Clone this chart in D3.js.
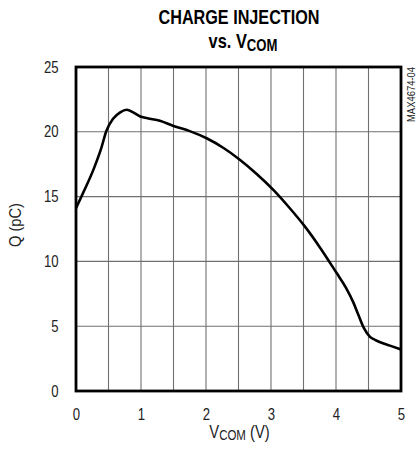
<!DOCTYPE html>
<html><head><meta charset="utf-8">
<script src="https://cdn.jsdelivr.net/npm/d3@7"></script>
<style>
body{margin:0;background:#fff;}
text{font-family:"Liberation Sans Narrow","Arial Narrow","Liberation Sans",sans-serif;}
</style></head>
<body>
<svg id="c" width="416" height="455"></svg>
<script>
const xTicks = [0,1,2,3,4,5];
const yTicks = [0,5,10,15,20,25];
const vcom = [0,0.12,0.27,0.38,0.47,0.57,0.68,0.78,0.88,0.98,1.1,1.29,1.5,1.75,2.01,2.27,2.52,2.78,3.04,3.29,3.52,3.75,4.01,4.15,4.27,4.35,4.43,4.52,4.6,4.68,4.83,5.0];
const charge = [14.1,15.4,17.1,18.6,20.1,21.0,21.5,21.7,21.5,21.2,21.05,20.85,20.45,20.05,19.5,18.75,17.85,16.75,15.5,14.1,12.7,11.1,9.1,8.0,6.8,5.8,4.85,4.2,3.95,3.76,3.5,3.2];

const svg = d3.select("#c");
const L=76,R=401,T=67,B=391;
const x = d3.scaleLinear().domain([0,5]).range([L,R]);
const y = d3.scaleLinear().domain([0,25]).range([B,T]);
const NX = 0.82;

// grid
const g = svg.append("g");
g.selectAll("line.v").data(d3.range(0.5,5,0.5)).enter().append("line")
 .attr("x1",d=>x(d)).attr("x2",d=>x(d)).attr("y1",T).attr("y2",B)
 .attr("stroke","#707070").attr("stroke-width",1.1);
g.selectAll("line.h").data(yTicks.slice(1,-1)).enter().append("line")
 .attr("y1",d=>y(d)).attr("y2",d=>y(d)).attr("x1",L).attr("x2",R)
 .attr("stroke","#707070").attr("stroke-width",1.1);

// curve
const line = d3.line().x((d,i)=>x(vcom[i])).y((d,i)=>y(charge[i])).curve(d3.curveMonotoneX);
svg.append("path").datum(charge).attr("d",line).attr("fill","none")
 .attr("stroke","#000").attr("stroke-width",2.6).attr("stroke-linejoin","round");

// frame
svg.append("rect").attr("x",L).attr("y",T).attr("width",R-L).attr("height",B-T)
 .attr("fill","none").attr("stroke","#000").attr("stroke-width",2.8);

// axes labels
const xa = d3.axisBottom(x).tickValues(xTicks).tickSize(0).tickPadding(18).tickFormat(d3.format("d"));
const gx = svg.append("g").attr("transform",`translate(0,${B})`).call(xa);
gx.select(".domain").remove();
gx.selectAll("text").attr("font-size",16).attr("fill","#222").style("font-family",null)
  .attr("transform",`scale(${NX},1)`);

const yp = 17.5;
const ya = d3.axisLeft(y).tickValues(yTicks).tickSize(0).tickPadding(yp).tickFormat(d3.format("d"));
const gy = svg.append("g").attr("transform",`translate(${L},0)`).call(ya);
gy.select(".domain").remove();
gy.selectAll("text").attr("font-size",16).attr("fill","#222").style("font-family",null)
  .attr("transform",`translate(${-yp},0) scale(${NX},1) translate(${yp},0)`);

// titles
svg.append("text").attr("x",239).attr("y",24).attr("text-anchor","middle")
 .attr("font-size",20).attr("font-weight","bold")
 .attr("textLength",161).attr("lengthAdjust","spacingAndGlyphs").text("CHARGE INJECTION");
const t2 = svg.append("text").attr("transform","translate(243,48.3) scale(0.82,1)").attr("text-anchor","middle")
 .attr("font-size",20).attr("font-weight","bold");
t2.append("tspan").text("vs. V");
t2.append("tspan").attr("font-size",16).attr("dy",2.5).text("COM");

const xt = svg.append("text").attr("transform","translate(239.5,438) scale(0.82,1)").attr("text-anchor","middle")
 .attr("font-size",18).attr("fill","#222");
xt.append("tspan").text("V");
xt.append("tspan").attr("font-size",14).attr("dy",1.5).text("COM");
xt.append("tspan").attr("dy",-1.5).text(" (V)");

svg.append("text").attr("transform","translate(20.5,225) rotate(-90)").attr("text-anchor","middle")
 .attr("font-size",16).attr("fill","#222")
 .attr("textLength",44).attr("lengthAdjust","spacingAndGlyphs").text("Q (pC)");

svg.append("text").attr("transform","translate(414.5,122) rotate(-90)").attr("text-anchor","start")
 .attr("font-size",10).attr("fill","#222")
 .attr("textLength",55).attr("lengthAdjust","spacingAndGlyphs").text("MAX4674-04");
</script>
</body></html>
